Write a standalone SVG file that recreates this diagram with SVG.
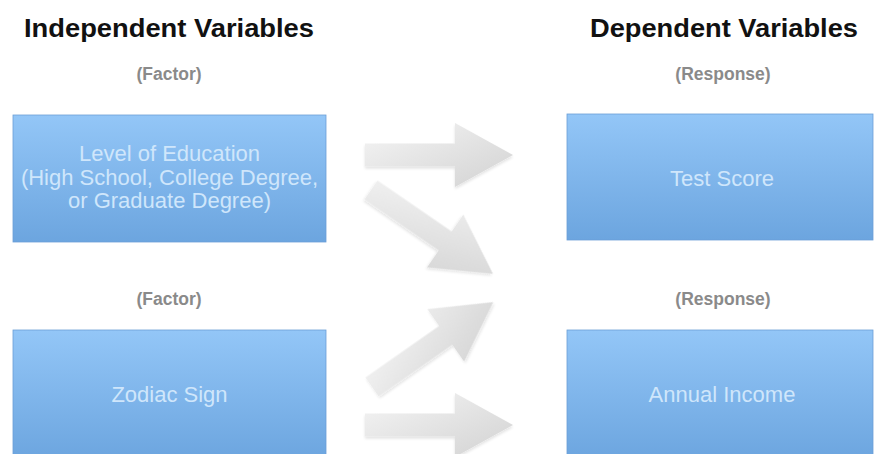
<svg xmlns="http://www.w3.org/2000/svg" width="876" height="454" viewBox="0 0 876 454">
<defs>
<linearGradient id="boxg" x1="0" y1="0" x2="0" y2="1">
<stop offset="0" stop-color="#93c6f7"/>
<stop offset="1" stop-color="#6ca5df"/>
</linearGradient>
<linearGradient id="arrg" x1="0" y1="0" x2="1" y2="1">
<stop offset="0" stop-color="#f5f5f5"/>
<stop offset="1" stop-color="#d2d2d2"/>
</linearGradient>
<filter id="sh" x="-20%" y="-40%" width="140%" height="180%">
<feGaussianBlur in="SourceAlpha" stdDeviation="1.5"/>
<feOffset dx="0" dy="1.5" result="b"/>
<feComponentTransfer><feFuncA type="linear" slope="0.12"/></feComponentTransfer>
<feMerge><feMergeNode/><feMergeNode in="SourceGraphic"/></feMerge>
</filter>
<path id="arrow" d="M0,-11.5 L90,-11.5 L90,-32 L148,0 L90,32 L90,11.5 L0,11.5 Z"/>
</defs>
<style>
.title{font-family:"Liberation Sans",Arial,sans-serif;font-weight:bold;font-size:26.5px;fill:#111}
.sub{font-family:"Liberation Sans",Arial,sans-serif;font-weight:bold;font-size:17.5px;fill:#8a8a8a;text-anchor:middle}
.box{fill:url(#boxg);stroke:#6b9fd6;stroke-width:0.8}
.lbl{font-family:"Liberation Sans",Arial,sans-serif;font-size:22px;fill:#cfe6fb;text-anchor:middle}
.arr{fill:url(#arrg);filter:url(#sh)}
</style>
<rect width="876" height="454" fill="#ffffff"/>
<text class="title" x="24" y="37" textLength="290" lengthAdjust="spacingAndGlyphs">Independent Variables</text>
<text class="title" x="590" y="37" textLength="268" lengthAdjust="spacingAndGlyphs">Dependent Variables</text>
<text class="sub" x="169" y="80">(Factor)</text>
<text class="sub" x="723" y="80">(Response)</text>
<text class="sub" x="169" y="305">(Factor)</text>
<text class="sub" x="723" y="305">(Response)</text>
<g id="node-education">
<rect class="box" x="13" y="115" width="313" height="127"/>
<text class="lbl" x="169.5" y="161">Level of Education</text>
<text class="lbl" x="169.5" y="185">(High School, College Degree,</text>
<text class="lbl" x="169.5" y="208">or Graduate Degree)</text>
</g>
<g id="node-zodiac">
<rect class="box" x="13" y="330" width="313" height="130"/>
<text class="lbl" x="169.5" y="402">Zodiac Sign</text>
</g>
<g id="node-testscore">
<rect class="box" x="567" y="114" width="306" height="126"/>
<text class="lbl" x="722" y="186">Test Score</text>
</g>
<g id="node-income">
<rect class="box" x="567" y="330" width="306" height="130"/>
<text class="lbl" x="722" y="402">Annual Income</text>
</g>
<g id="connectors">
<use href="#arrow" class="arr" transform="translate(365,155)"/>
<use href="#arrow" class="arr" transform="translate(371,190) rotate(34.5)"/>
<use href="#arrow" class="arr" transform="translate(372,387) rotate(-35)"/>
<use href="#arrow" class="arr" transform="translate(365,425)"/>
</g>
</svg>
